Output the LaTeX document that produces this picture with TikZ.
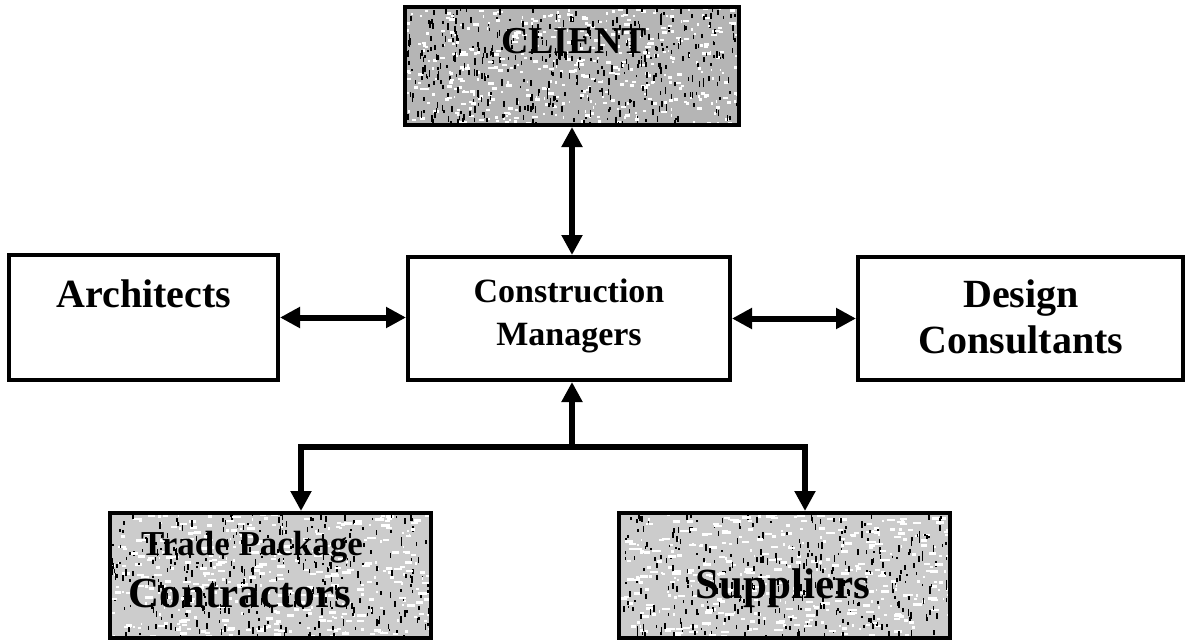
\documentclass[tikz,border=0pt]{standalone}
\usepackage{fontspec}
\setmainfont{Liberation Serif}
\usetikzlibrary{arrows.meta}
\begin{document}
\begin{tikzpicture}[x=1pt,y=-1pt,
  box/.style={draw=black,line width=4pt,inner sep=0pt,rectangle},
  lab/.style={font=\bfseries,align=center,inner sep=0pt},
  conn/.style={line width=6pt,line join=miter},
  arr/.style={conn,-{Triangle[length=20pt,width=20pt]}},
  dbl/.style={conn,{Triangle[length=20pt,width=20pt]}-{Triangle[length=20pt,width=20pt]}},
]
\useasboundingbox (0,0) rectangle (1186,640);
\fill[white] (0,0) rectangle (1186,640);

% textured boxes
\pgfmathsetseed{7}
\newcommand{\texbox}[7]{%
  \fill[gray!#5] (#1,#2) rectangle (#3,#4);
  \begin{scope}
    \clip (#1,#2) rectangle (#3,#4);
    \foreach \k in {1,...,#6}{
      \pgfmathsetmacro{\rx}{#1+rnd*(#3-#1)}
      \pgfmathsetmacro{\ry}{#2+rnd*(#4-#2)}
      \pgfmathsetmacro{\rw}{1+rnd*#7}
      \fill[white] (\rx,\ry) rectangle ++(\rw,2.5);
      \pgfmathsetmacro{\sx}{#1+rnd*(#3-#1)}
      \pgfmathsetmacro{\sy}{#2+rnd*(#4-#2)}
      \pgfmathsetmacro{\sw}{2+rnd*5}
      \fill[black] (\sx,\sy) rectangle ++(1.6,\sw);
    }
  \end{scope}}
\texbox{405}{7}{739}{125}{58}{450}{5}
\texbox{110}{513}{431}{638}{40}{380}{8}
\texbox{619}{513}{950}{638}{40}{380}{8}

\node[box,minimum width=334pt,minimum height=118pt] (client) at (572,66) {};
\node[box,minimum width=269pt,minimum height=125pt] (arch) at (143.5,317.5) {};
\node[box,minimum width=322pt,minimum height=123pt] (cm) at (569,318.5) {};
\node[box,minimum width=325pt,minimum height=123pt] (dc) at (1020.5,318.5) {};
\node[box,minimum width=321pt,minimum height=125pt] (trade) at (270.5,575.5) {};
\node[box,minimum width=331pt,minimum height=125pt] (supp) at (784.5,575.5) {};

\node[lab,font=\bfseries\fontsize{38}{44}\selectfont,anchor=base] (clientt) at (574,53) {CLIENT};
\node[lab,font=\bfseries\fontsize{40}{46}\selectfont,anchor=base] (archt) at (144,307) {Architects};
\node[lab,font=\bfseries\fontsize{34}{43}\selectfont,anchor=base] (cmt1) at (569,302) {Construction};
\node[lab,font=\bfseries\fontsize{34}{43}\selectfont,anchor=base] (cmt2) at (569,345) {Managers};
\node[lab,font=\bfseries\fontsize{40}{46}\selectfont,anchor=base] (dct1) at (1021,307) {Design};
\node[lab,font=\bfseries\fontsize{40}{46}\selectfont,anchor=base] (dct2) at (1021,353) {Consultants};
\node[lab,font=\bfseries\fontsize{35}{40}\selectfont,anchor=base] (tradet1) at (252,555) {Trade Package};
\node[lab,font=\bfseries\fontsize{43}{48}\selectfont,anchor=base] (tradet2) at (240,607) {Contractors};
\node[lab,font=\bfseries\fontsize{43}{50}\selectfont,anchor=base] (suppt) at (783,598) {Suppliers};

% connectors
\draw[dbl] (client.south -| 572,0) -- (cm.north -| 572,0);
\draw[dbl] (arch.east) -- (cm.west |- arch.east);
\draw[dbl] (cm.east) -- (dc.west);
\coordinate (j) at (572,447);
\coordinate (jl) at (301,447);
\coordinate (jr) at (805,447);
\draw[arr] (j) -- (j |- cm.south);
\draw[arr] (j) -- (jl) -- (jl |- trade.north);
\draw[arr] (j) -- (jr) -- (jr |- supp.north);
\end{tikzpicture}
\end{document}
